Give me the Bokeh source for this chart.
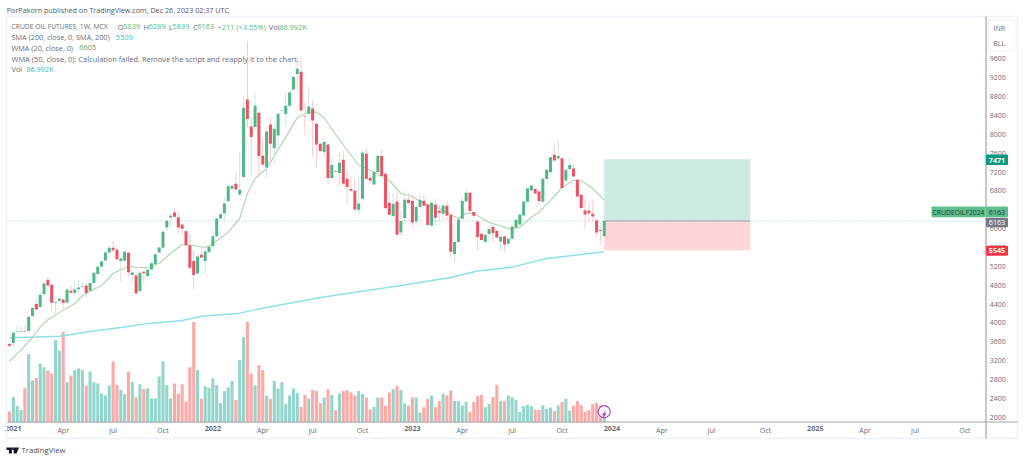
from bokeh.plotting import figure
from bokeh.models import (ColumnDataSource, Range1d, FixedTicker, Label, BoxAnnotation, PolyAnnotation, LinearAxis)
from bokeh.embed import file_html
from bokeh.resources import INLINE

opens = [3550,3571,3810,3815,3830,3826,4144,4399,4335,4611,4915,4809,4427,4470,4498,4427,4682,4640,4715,4770,
 4795,4682,4844,5035,5198,5325,5494,5594,5551,5311,5325,5487,5014,5007,4675,5085,4993,5134,5247,5494,
 5594,6025,6237,6343,6244,6088,5947,5650,5311,5049,5445,5311,5502,5629,5841,6216,6329,6583,6845,6951,
 6725,7094,8741,8169,8155,8459,7547,7299,8211,7709,7978,8494,8430,8607,8954,9279,9328,8381,8437,8551,
 8225,7801,7624,7787,7073,7229,7179,7462,7059,6840,6804,6401,6635,7589,7080,6939,7200,7540,7165,6550,
 6267,6578,5920,6224,6612,6584,6153,6457,6591,6513,6068,6513,6379,6315,6485,6294,5460,5715,6209,6577,
 6761,6351,6153,5891,5715,5884,6040,5948,5729,5835,5679,5785,6026,6089,6280,6570,6810,6839,6789,6570,
 7051,7199,7567,7489,7496,7022,7263,7277,7037,6718,6386,6379,6315,6174,5969,5839]
highs = [3578,3840,3967,3945,3945,4145,4340,4510,4660,4865,4970,4830,4455,4530,4520,4740,4810,4865,4915,4865,
 4830,4880,5090,5210,5320,5520,5643,5735,5600,5400,5530,5500,5090,5077,5080,5110,5140,5290,5480,5620,
 5950,6190,6320,6406,6364,6120,5970,5890,5537,5440,5537,5572,5640,5961,6240,6330,6668,6920,6930,7184,
 7624,8805,9979,8367,8848,8500,7908,8090,8353,8240,8460,8520,8911,8910,9240,9604,9604,8685,9003,8734,
 8250,7820,7870,7800,7533,7240,7624,7646,7236,7130,7059,7094,7660,7716,7200,7220,7570,7681,7200,6741,
 6762,6775,6386,6810,6740,6740,6480,6740,6725,6530,6570,6634,6500,6520,6577,6316,5730,6210,6683,6846,
 6780,6370,6170,5920,5890,6068,6060,5970,5850,5860,5800,6060,6200,6320,6590,6870,6930,6860,6810,7070,
 7270,7530,7779,7885,7510,7270,7517,7376,7050,6730,6620,6577,6620,6210,6125,6289]
lows = [3487,3480,3790,3800,3800,3815,4120,4264,4300,4580,4760,4265,4200,4440,4265,4400,4600,4580,4610,4740,
 4526,4650,4830,5020,5180,5300,5480,5500,5330,4886,5300,4990,4865,4610,4660,4865,4960,5110,5230,5480,
 5580,5950,6046,6230,5890,5890,5630,5150,4710,5030,5370,5042,5480,5610,5820,6200,6138,6570,6830,6810,
 6670,7080,8155,7151,8080,7094,7340,7073,7412,7341,7766,8490,8169,8590,8930,8954,8490,7978,8420,7533,
 7292,7620,7518,6939,7038,7200,6903,6940,6529,6790,6390,6316,6620,7040,6950,6920,7094,7090,6410,6280,
 6250,5850,5835,6130,6500,6018,6068,6440,6460,6060,6050,6068,6139,6174,6174,5396,5290,5700,6190,6560,
 6350,6230,5538,5740,5700,5870,5715,5790,5524,5524,5660,5770,6010,6070,6260,6550,6790,6730,6492,6550,
 7040,7190,7430,7470,6840,7000,7240,7090,6670,6420,5997,6174,6139,5830,5644,5839]
closes = [3515,3791,3825,3830,3815,4130,4314,4285,4597,4837,4795,4427,4445,4510,4427,4710,4640,4710,4752,4785,
 4632,4844,5063,5190,5304,5494,5594,5544,5353,5367,5509,5077,5070,4625,5063,5056,5127,5268,5459,5601,
 5933,6166,6272,6251,6025,5997,5650,5169,5014,5410,5388,5516,5615,5841,6216,6308,6534,6902,6908,6831,
 6824,8565,8324,7943,8607,7540,7363,8063,7801,8119,8438,8508,8607,8890,9222,9392,8508,8367,8593,8296,
 7787,7646,7837,7073,7349,7215,7398,6953,6882,6804,6408,6536,7610,7059,7023,7200,7547,7115,6437,6295,
 6529,5870,6160,6612,6542,6132,6457,6612,6485,6075,6549,6231,6337,6492,6280,5510,5715,6195,6584,6761,
 6372,6273,5821,5757,5870,5990,5905,5814,5828,5665,5785,6047,6188,6301,6577,6853,6916,6747,6584,7058,
 7249,7517,7447,7539,6860,7249,7348,7107,6683,6436,6301,6329,6259,5920,5948,6163]
volumes_k = [88,205,133,101,277,547,336,357,472,443,416,392,659,576,725,323,376,421,432,421,
 299,408,323,312,232,216,296,488,301,261,227,408,325,203,307,269,272,192,192,368,
 491,299,192,312,232,307,168,443,804,421,192,291,277,355,301,157,251,283,333,181,
 501,683,804,392,299,459,419,216,189,333,272,323,147,216,272,237,125,221,192,261,
 253,155,200,267,221,99,232,251,259,240,216,251,229,200,107,125,200,200,133,240,
 267,291,259,152,136,200,200,80,123,189,216,123,171,229,216,256,173,173,136,165,
 85,165,211,221,123,149,205,301,173,171,216,203,179,85,131,141,131,101,101,136,
 109,120,91,136,165,189,96,136,171,139,85,99,147,157,136,87]
volume_dir = ["r","g","g","g","r","g","g","r","g","g","r","r","g","g","r","g","r","g","g","g",
 "r","g","g","g","g","g","g","r","r","g","g","r","g","r","g","r","g","g","g","g",
 "g","g","g","r","r","r","r","r","r","g","r","g","g","g","g","g","g","g","g","r",
 "g","g","r","r","g","r","r","g","r","g","g","g","g","g","g","g","r","r","g","r",
 "r","r","g","r","g","r","g","r","r","r","r","g","g","r","r","g","g","r","r","r",
 "g","r","g","g","r","r","g","g","r","r","g","r","r","g","r","r","g","g","g","g",
 "r","r","r","r","g","g","r","r","g","r","g","g","g","g","g","g","g","r","r","g",
 "g","g","r","g","r","g","g","r","r","r","r","r","r","r","r","g"]

sma_weeks = [0,7,13,21,29,37,45,50,60,65,81,102,115,122,131,140,149,155]
sma_values = [3684,3701,3718,3817,3902,3994,4051,4142,4206,4295,4539,4794,4963,5101,5182,5367,5451,5509]
wma_weeks = [0,3,6,8,10,13,17,19,24,27,31,33,36,39,42,45,48,51,53,57,60,62,64,67,72,75,78,80,82,85,91,92,95,99,
             102,105,108,112,117,119,121,125,131,133,136,138,141,144,147,149,152,155]
wma_values = [3187,3429,3690,3909,4066,4221,4405,4581,4794,5048,5203,5176,5176,5261,5473,5664,5642,5600,5685,5925,
              6215,6746,7064,7276,7941,8359,8471,8471,8359,7998,7340,7319,7198,7022,6746,6682,6534,6428,6215,
              6322,6322,6130,5982,6031,6243,6349,6597,6873,7022,7022,6852,6605]

price_ticks = [2000,2400,2800,3200,3600,4000,4400,4800,5200,5600,6000,6400,6800,7200,7600,8000,8400,8800,9200,9600]
month_ticks = [14,27,40,66,79,92,118,131,144,170,183,197,223,236,249]
month_labels = ["Apr","Jul","Oct","Apr","Jul","Oct","Apr","Jul","Oct","Apr","Jul","Oct","Apr","Jul","Oct"]
year_ticks = [1,53,105,157,210]
year_labels = ["2021","2022","2023","2024","2025"]

entry_price, target_price, stop_price = 6163, 7471, 5545
tool_start, tool_end = 155, 193

FONT = "Open Sans"
GRAY = "#6a6d78"
GREEN = "#53b987"
weeks = list(range(len(opens)))
up = [c >= o for o, c in zip(opens, closes)]
AXIS_X, AXIS_Y = 254.4, 1886

p = figure(width=1024, height=461, output_backend="svg", toolbar_location=None,
           x_range=Range1d(-2.3456, 264.53), y_range=Range1d(1059, 10841),
           y_axis_location="right", min_border=0, outline_line_color=None,
           background_fill_color="white", border_fill_color="white")
p.grid.visible = False

p.yaxis.ticker = FixedTicker(ticks=price_ticks)
p.yaxis.fixed_location = AXIS_X
p.yaxis.axis_line_color = None
p.yaxis.major_tick_line_color = None
p.yaxis.minor_tick_line_color = None
p.yaxis.major_tick_out = 0
p.yaxis.major_tick_in = 0
p.yaxis.major_label_text_font = FONT
p.yaxis.major_label_text_font_size = "7px"
p.yaxis.major_label_text_color = GRAY
p.yaxis.major_label_standoff = 4

p.xaxis.ticker = FixedTicker(ticks=month_ticks)
p.xaxis.major_label_overrides = dict(zip(month_ticks, month_labels))
p.xaxis.fixed_location = AXIS_Y
p.xaxis.axis_line_color = None
p.xaxis.major_tick_line_color = None
p.xaxis.minor_tick_line_color = None
p.xaxis.major_tick_out = 0
p.xaxis.major_tick_in = 0
p.xaxis.major_label_text_font = FONT
p.xaxis.major_label_text_font_size = "7px"
p.xaxis.major_label_text_color = GRAY
p.xaxis.major_label_standoff = 3

year_axis = LinearAxis(ticker=FixedTicker(ticks=year_ticks),
                       major_label_overrides=dict(zip(year_ticks, year_labels)),
                       fixed_location=AXIS_Y, axis_line_color=None, major_tick_line_color=None,
                       minor_tick_line_color=None, major_tick_out=0, major_tick_in=0,
                       major_label_text_font=FONT, major_label_text_font_size="7.2px",
                       major_label_text_font_style="bold", major_label_text_color=GRAY,
                       major_label_standoff=3)
p.add_layout(year_axis, "below")

p.extra_y_ranges = {"vol": Range1d(-312, 3376)}

# position tool
p.quad(left=tool_start, right=tool_end, bottom=entry_price, top=target_price,
       fill_color="#cdeae4", line_color="#dceff0", line_width=1)
p.quad(left=tool_start, right=tool_end, bottom=stop_price, top=entry_price,
       fill_color="#fdd6da", line_color="#fde4e6", line_width=1)
p.line([-0.521, AXIS_X], [entry_price, entry_price], line_color="#8fcfc4", line_width=1, line_dash="1 2")
p.line([tool_start, tool_end], [entry_price, entry_price], line_color="#9aa0a4", line_width=1)

# volume
vsrc = ColumnDataSource(dict(x=weeks, top=volumes_k,
                             c=["#92d5cb" if d == "g" else "#ffa9a7" for d in volume_dir]))
p.vbar(x="x", top="top", bottom=0, width=0.8, fill_color="c", line_color=None, source=vsrc, y_range_name="vol")

# lines
p.line(sma_weeks, sma_values, line_color="#8ce0e6", line_width=1.4)
p.line(wma_weeks, wma_values, line_color="#b0d8ac", line_width=1.2)

# candles
csrc = ColumnDataSource(dict(x=weeks, high=highs, low=lows,
                             top=[max(o, c) for o, c in zip(opens, closes)],
                             bottom=[min(o, c) for o, c in zip(opens, closes)],
                             body=["#50b888" if u else "#ee5265" for u in up],
                             wick=["#cde6e2" if u else "#fcc9ce" for u in up]))
p.segment(x0="x", y0="low", x1="x", y1="high", line_color="wick", line_width=1, source=csrc)
p.vbar(x="x", top="top", bottom="bottom", width=0.78, fill_color="body", line_color=None, source=csrc)

# lightning marker over the last volume bar
p.scatter([weeks[-1]], [volumes_k[-1]], y_range_name="vol", size=12, marker="circle",
          fill_color="white", line_color="#ab47bc", line_width=1.2)


def box(l, r, t, b, fill=None, line=None, lw=1, radius=0):
    a = BoxAnnotation(left=l, right=r, top=t, bottom=b, left_units="canvas", right_units="canvas",
                      top_units="canvas", bottom_units="canvas", fill_color=fill,
                      fill_alpha=1 if fill else 0, line_color=line, line_width=lw,
                      line_alpha=1 if line else 0, level="overlay", border_radius=radius)
    p.add_layout(a)


def txt(x, y, s, color=GRAY, size=7.4, align="left", style="normal"):
    p.add_layout(Label(x=x, y=y, x_units="canvas", y_units="canvas", text=s, text_color=color,
                       text_font=FONT, text_font_size=f"{size}px", text_align=align,
                       text_baseline="middle", text_font_style=style, level="overlay"))


# frame and axes lines
box(6, 1017, 16, 438, line="#eff1f8", lw=1.5)
box(985, 986, 16, 438, fill="#8e9199")
box(7, 1017, 421, 422, fill="#a3a6ad")

# price tags
box(985.5, 1007.5, 154, 164.5, fill="#089981", radius=1)
txt(996.5, 159.5, str(target_price), "white", 7.2, "center", "bold")
box(931, 985, 206, 216.7, fill="#5fc08f", radius=1)
txt(958, 211.5, "CRUDEOILF2024", "#1d3b2f", 6.8, "center")
box(985.5, 1007.5, 206, 216.7, fill="#5fc08f", radius=1)
txt(996.5, 211.5, "6163", "#1d3b2f", 7.2, "center")
box(985.5, 1007.5, 217.3, 226.7, fill="#787b86", radius=1)
txt(996.5, 222, "6163", "white", 7.2, "center")
box(985.5, 1007.5, 245.3, 255.3, fill="#f23645", radius=1)
txt(996.5, 250.3, str(stop_price), "white", 7.2, "center", "bold")

# currency / unit box
box(987.5, 1015.5, 19.5, 50.5, fill="white", line="#eff1f4", radius=3)
txt(998.7, 27.5, "INR", GRAY, 7, "center")
txt(998.7, 43, "BLL", GRAY, 7, "center")

# title and legend
txt(6.3, 9.5, "PorPakorn published on TradingView.com, Dec 26, 2023 02:37 UTC", "#555862", 7.18)
txt(11, 26, "CRUDE OIL FUTURES, 1W, MCX", size=6.75)
for x, s, c in [(117.3, "O", GRAY), (122.7, "5839", GREEN), (143, "H", GRAY), (148.3, "6289", GREEN),
                (168.3, "L", GRAY), (172, "5839", GREEN), (192.7, "C", GRAY), (196.7, "6163", GREEN),
                (217, "+211 (+3.55%)", GREEN), (268.3, "Vol", GRAY), (278.7, "86.992K", GREEN)]:
    txt(x, 26, s, c)
txt(11, 36.7, "SMA (200, close, 0, SMA, 200)", size=7.3)
txt(115.3, 36.7, "5509", "#26c6da")
txt(11, 47.3, "WMA (20, close, 0)", size=7.3)
txt(78.7, 47.3, "6605", "#66a866")
txt(11, 58.3, "WMA (50, close, 0): Calculation failed. Remove the script and reapply it to the chart.", size=7.47)
txt(11, 68.3, "Vol")
txt(25.7, 68.3, "86.992K", "#4db6ac")

# lightning bolt inside the marker, and the logo
for xs, ys, col in [([605.4, 601.2, 603.2, 602.0, 606.2, 604.2], [409.8, 414.8, 414.8, 418.2, 413.0, 413.0], "#ab47bc"),
               ([6, 11.4, 11.4, 8.4, 8.4, 6], [447, 447, 453, 453, 449.4, 449.4], "#131722"),
               ([13.2, 18.6, 16, 13.2], [447, 447, 453, 453], "#131722"),
               ([11.7, 13.4, 13.4, 11.7], [447, 447, 449.4, 449.4], "#131722")]:
    p.add_layout(PolyAnnotation(xs=xs, ys=ys, xs_units="canvas", ys_units="canvas",
                                fill_color=col, fill_alpha=1, line_alpha=0, level="overlay"))
txt(21, 449.5, "TradingView", "#50535e", 7.7)

open("out.html", "w").write(file_html(p, INLINE))
